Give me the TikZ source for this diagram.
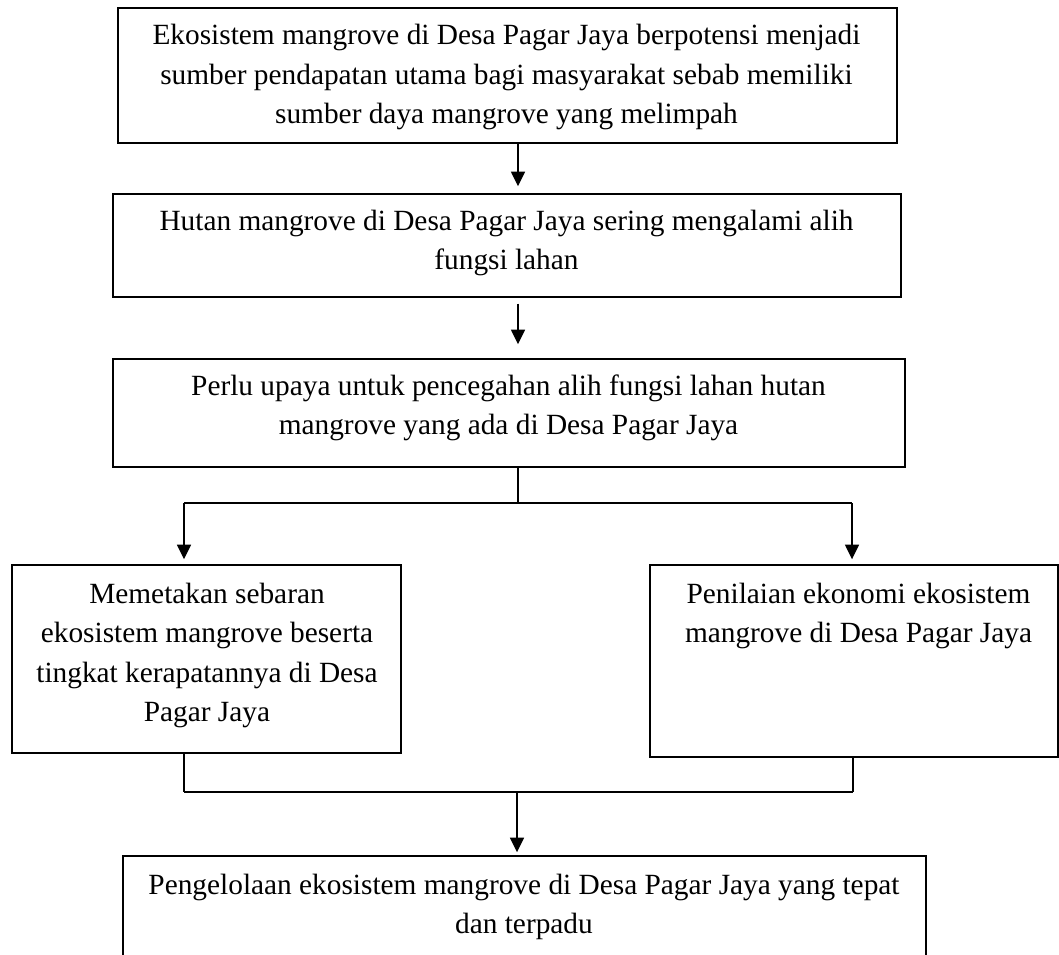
\documentclass[tikz,border=0pt]{standalone}
\usepackage{fontspec}
\setmainfont{Liberation Serif}
\usetikzlibrary{arrows.meta}
\begin{document}
\begin{tikzpicture}[x=0.75pt,y=-0.75pt,
 box/.style={draw, line width=1.1pt, rectangle, inner sep=0pt},
 txt/.style={align=center, font=\fontsize{22}{29.6}\selectfont, inner sep=0pt},
 conn/.style={line width=1.1pt},
 arr/.style={conn, -{Triangle[length=11pt,width=10.5pt]}}]
\useasboundingbox (0,0) rectangle (1059,954);
% boxes
\node[box, minimum width=584.25pt, minimum height=101.25pt] (b1) at (507.5,75.5) {};
\node[box, minimum width=591pt, minimum height=77.25pt] (b2) at (507,245.5) {};
\node[box, minimum width=594pt, minimum height=81pt] (b3) at (509,413) {};
\node[box, minimum width=291.75pt, minimum height=141pt] (b4) at (206.5,659) {};
\node[box, minimum width=306pt, minimum height=144pt] (b5) at (854,661) {};
\node[box, minimum width=602.25pt, minimum height=150pt] (b6) at (524.5,956) {};
% texts
\node[txt] (t1) at (506.5,77) {Ekosistem mangrove di Desa Pagar Jaya berpotensi menjadi\\sumber pendapatan utama bagi masyarakat sebab memiliki\\sumber daya mangrove yang melimpah};
\node[txt] (t2) at (506.5,243) {Hutan mangrove di Desa Pagar Jaya sering mengalami alih\\fungsi lahan};
\node[txt] (t3) at (508.5,408) {Perlu upaya untuk pencegahan alih fungsi lahan hutan\\mangrove yang ada di Desa Pagar Jaya};
\node[txt] (t4) at (207,655.5) {Memetakan sebaran\\ekosistem mangrove beserta\\tingkat kerapatannya di Desa\\Pagar Jaya};
\node[txt] (t5) at (858.5,616) {Penilaian ekonomi ekosistem\\mangrove di Desa Pagar Jaya};
\node[txt] (t6) at (524,907) {Pengelolaan ekosistem mangrove di Desa Pagar Jaya yang tepat\\dan terpadu};
% junction coordinates
\coordinate (mid) at (518,0);
\coordinate (j1) at (518,503);
\coordinate (jl) at (184,503);
\coordinate (jr) at (852,503);
\coordinate (kl) at (184,792);
\coordinate (kr) at (853,792);
\coordinate (k1) at (517,792);
% connectors
\draw[arr, shorten >=5.25pt] (b1.south -| mid) -- (b2.north -| mid);
\draw[arr, shorten <=4.5pt, shorten >=10.5pt] (b2.south -| mid) -- (b3.north -| mid);
\draw[conn] (b3.south -| mid) -- (j1);
\draw[conn] (jl) -- (jr);
\draw[arr, shorten >=3.75pt] (jl) -- (b4.north -| jl);
\draw[arr, shorten >=3.75pt] (jr) -- (b5.north -| jr);
\draw[conn] (b4.south -| kl) -- (kl);
\draw[conn] (b5.south -| kr) -- (kr);
\draw[conn] (kl) -- (kr);
\draw[arr, shorten >=2.25pt] (k1) -- (b6.north -| k1);
\end{tikzpicture}
\end{document}
